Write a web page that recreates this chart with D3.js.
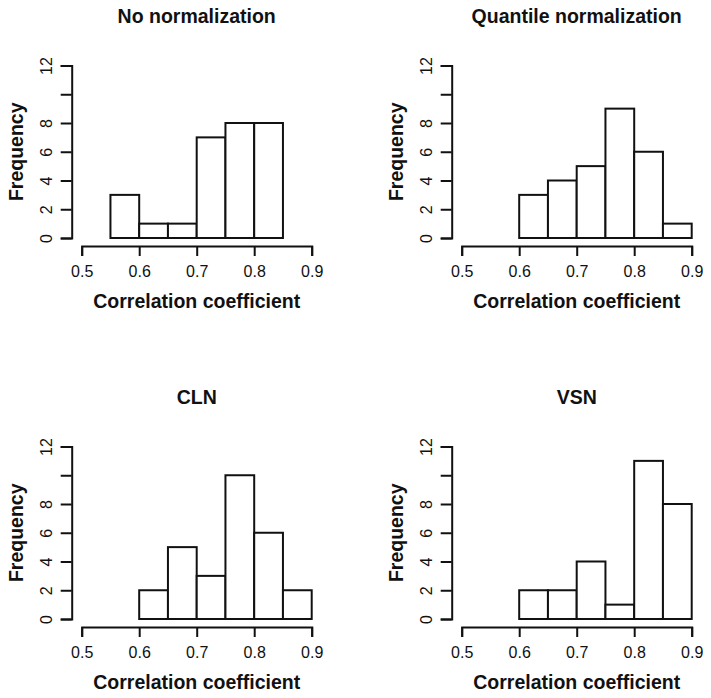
<!DOCTYPE html>
<html>
<head>
<meta charset="utf-8">
<script src="https://cdn.jsdelivr.net/npm/d3@7"></script>
<style>
  html, body { margin: 0; padding: 0; background: #fff; }
  svg { display: block; }
  text { font-family: "Liberation Sans", Arial, Helvetica, sans-serif; fill: #111; }
</style>
</head>
<body>
<svg id="chart" width="711" height="698"></svg>
<script>
// ---- data ----
const binEdges = [0.50, 0.55, 0.60, 0.65, 0.70, 0.75, 0.80, 0.85, 0.90];
const titles = ["No normalization", "Quantile normalization", "CLN", "VSN"];
// counts per bin (bins: 0.50-0.55, 0.55-0.60, ..., 0.85-0.90)
const countsNone     = [0, 3, 1, 1, 7, 8, 8, 0];
const countsQuantile = [0, 0, 3, 4, 5, 9, 6, 1];
const countsCLN      = [0, 0, 2, 5, 3, 10, 6, 2];
const countsVSN      = [0, 0, 2, 2, 4, 1, 11, 8];
const xTicks = [0.5, 0.6, 0.7, 0.8, 0.9];
const yTicks = [0, 2, 4, 6, 8, 10, 12];
const yTickLabels = ["0", "2", "4", "6", "8", "", "12"];
const xLabel = "Correlation coefficient";
const yLabel = "Frequency";

const panels = [
  { title: titles[0], counts: countsNone,     ox: 0,   oy: 0 },
  { title: titles[1], counts: countsQuantile, ox: 380, oy: 0 },
  { title: titles[2], counts: countsCLN,      ox: 0,   oy: 381 },
  { title: titles[3], counts: countsVSN,      ox: 380, oy: 381 }
];

const svg = d3.select("#chart");
const LW = 2;
const black = "#111";

panels.forEach(p => {
  const g = svg.append("g").attr("transform", `translate(${p.ox},${p.oy})`);
  const x = d3.scaleLinear().domain([0.5, 0.9]).range([81.7, 311.7]);
  const y = d3.scaleLinear().domain([0, 12]).range([238, 65.5]);

  const bins = binEdges.slice(0, -1).map((x0, i) => ({ x0, x1: binEdges[i + 1], n: p.counts[i] }))
    .filter(b => b.n > 0);

  g.selectAll("rect.bar").data(bins).join("rect")
    .attr("class", "bar")
    .attr("x", d => x(d.x0))
    .attr("y", d => y(d.n))
    .attr("width", d => x(d.x1) - x(d.x0))
    .attr("height", d => y(0) - y(d.n))
    .attr("fill", "#fff")
    .attr("stroke", black)
    .attr("stroke-width", LW);

  // x axis
  const xAxis = d3.axisBottom(x).tickValues(xTicks).tickFormat(d3.format(".1f"))
    .tickSizeOuter(0).tickSize(10);
  const gx = g.append("g").attr("transform", "translate(0,246)").call(xAxis);
  gx.select(".domain").attr("stroke", black).attr("stroke-width", LW);
  gx.selectAll(".tick line").attr("stroke", black).attr("stroke-width", LW);
  gx.selectAll(".tick text")
    .attr("y", 31).attr("dy", 0)
    .style("font-size", "16px")
    .style("font-family", "'Liberation Sans', Arial, sans-serif")
    .attr("fill", black);

  // y axis
  const yAxis = d3.axisLeft(y).tickValues(yTicks)
    .tickFormat((d, i) => yTickLabels[i]).tickSizeOuter(0).tickSize(11);
  const gy = g.append("g").attr("transform", "translate(71.7,0)").call(yAxis);
  gy.select(".domain").attr("stroke", black).attr("stroke-width", LW);
  gy.selectAll(".tick line").attr("stroke", black).attr("stroke-width", LW);
  gy.selectAll(".tick text")
    .attr("x", 0).attr("y", -20).attr("dy", 0)
    .attr("transform", "rotate(-90)")
    .attr("text-anchor", "middle")
    .style("font-size", "16px")
    .style("font-family", "'Liberation Sans', Arial, sans-serif")
    .attr("fill", black);

  const cx = (x.range()[0] + x.range()[1]) / 2;

  // title
  g.append("text")
    .attr("x", cx).attr("y", 22.7)
    .attr("text-anchor", "middle")
    .style("font-size", "19.5px").style("font-weight", "bold")
    .text(p.title);

  // x label
  g.append("text")
    .attr("x", cx).attr("y", 308)
    .attr("text-anchor", "middle")
    .style("font-size", "19.5px").style("font-weight", "bold")
    .text(xLabel);

  // y label
  g.append("text")
    .attr("transform", `translate(22.5,${(y.range()[0] + y.range()[1]) / 2}) rotate(-90)`)
    .attr("text-anchor", "middle")
    .style("font-size", "19.5px").style("font-weight", "bold")
    .text(yLabel);
});
</script>
</body>
</html>
